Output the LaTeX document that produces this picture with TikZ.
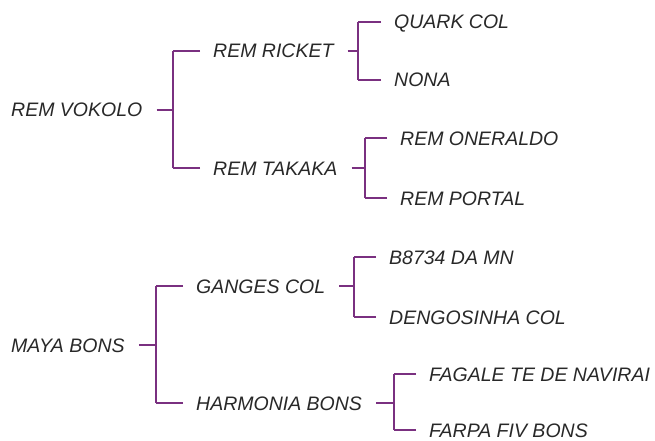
\documentclass[tikz,border=0pt]{standalone}
\usepackage{fontspec}
\setmainfont{Liberation Sans}
\definecolor{brk}{RGB}{122,48,128}
\definecolor{txt}{RGB}{40,40,40}
\tikzset{
  lbl/.style={anchor=west, inner sep=0pt, text height=14pt, text depth=0pt, text=txt,
    font=\fontsize{19.5}{20}\selectfont\itshape},
  vline/.style={draw=brk, line width=1.8pt},
  hline/.style={draw=brk, line width=1.3pt},
}
\newcommand{\mybracket}[4]{%
  \coordinate (#1-vA) at ([xshift=-#4]#2.west);
  \coordinate (#1-vB) at ([xshift=-#4]#3.west);
  \draw[hline] ([xshift=-13pt]#2.west) -- (#1-vA);
  \draw[hline] ([xshift=-13pt]#3.west) -- (#1-vB);
  \draw[vline] (#1-vA) -- (#1-vB);
  \draw[vline] ([xshift=14pt]#1.east) -- (#1.east -| #1-vA);
}
\begin{document}
\begin{tikzpicture}[x=1pt,y=-1pt]
\useasboundingbox (0,0) rectangle (655,441);
\node[lbl] (vokolo) at (11,110) {REM VOKOLO};
\node[lbl] (ricket) at (213,51) {REM RICKET};
\node[lbl] (takaka) at (213,168) {REM TAKAKA};
\node[lbl] (quark) at (394,22) {QUARK COL};
\node[lbl] (nona) at (394,80) {NONA};
\node[lbl] (oneraldo) at (400,138) {REM ONERALDO};
\node[lbl] (portal) at (400,198) {REM PORTAL};
\node[lbl] (maya) at (11,345) {MAYA BONS};
\node[lbl] (ganges) at (196,286) {GANGES COL};
\node[lbl] (harmonia) at (196,403) {HARMONIA BONS};
\node[lbl] (b8734) at (389,257) {B8734 DA MN};
\node[lbl] (dengo) at (389,317) {DENGOSINHA COL};
\node[lbl] (fagale) at (429,374) {FAGALE TE DE NAVIRAI};
\node[lbl] (farpa) at (429,430) {FARPA FIV BONS};
\mybracket{vokolo}{ricket}{takaka}{40pt}
\mybracket{ricket}{quark}{nona}{36pt}
\mybracket{takaka}{oneraldo}{portal}{35pt}
\mybracket{maya}{ganges}{harmonia}{40pt}
\mybracket{ganges}{b8734}{dengo}{35pt}
\mybracket{harmonia}{fagale}{farpa}{35pt}
\end{tikzpicture}
\end{document}
